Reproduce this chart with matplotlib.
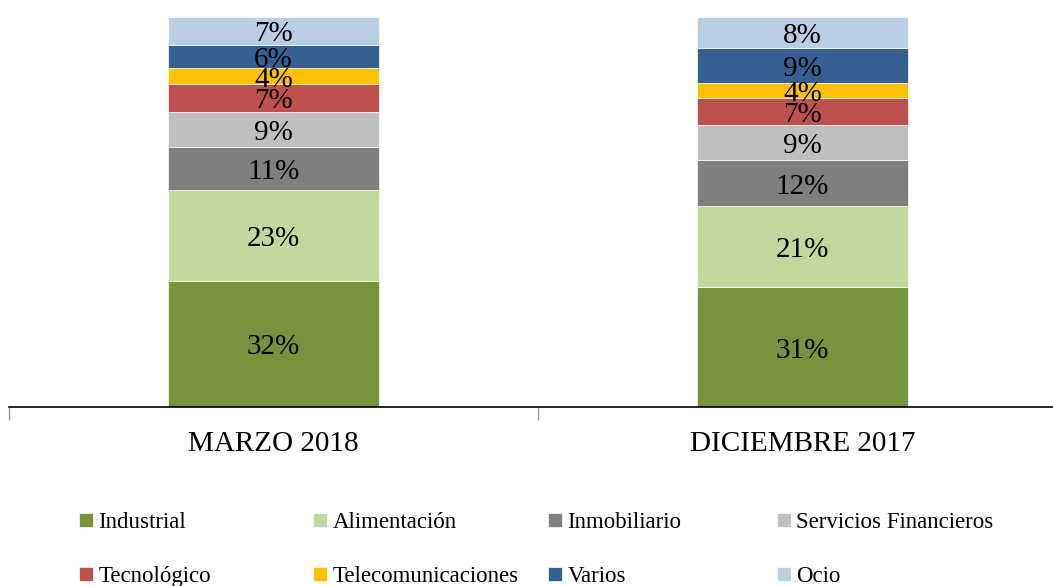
import matplotlib
matplotlib.use("Agg")
import matplotlib.pyplot as plt
import numpy as np

categories = ["MARZO 2018", "DICIEMBRE 2017"]
sectors = ["Industrial", "Alimentación", "Inmobiliario", "Servicios Financieros",
           "Tecnológico", "Telecomunicaciones", "Varios", "Ocio"]
marzo_2018 = [32, 23, 11, 9, 7, 4, 6, 7]
diciembre_2017 = [31, 21, 12, 9, 7, 4, 9, 8]
colors = ["#77933C", "#C3D69B", "#7F7F7F", "#BFBFBF",
          "#C0504D", "#FFC000", "#376092", "#B9CDE5"]

plt.rcParams['font.family'] = ['Liberation Serif', 'DejaVu Serif']

data = np.array([marzo_2018, diciembre_2017], dtype=float)
shares = data / data.sum(axis=1, keepdims=True) * 100

fig = plt.figure(figsize=(10.53, 5.86), dpi=100)
# axis spans 2 categories of 529 px each, starting at x=9 px
ax = fig.add_axes([9/1053, 1 - 407/586, 1058/1053, 390/586])

x = np.arange(len(categories))
bottom = np.zeros(len(categories))
handles = []
for i, name in enumerate(sectors):
    bars = ax.bar(x, shares[:, i], bottom=bottom, width=0.399, color=colors[i],
                  edgecolor="white", linewidth=0.5, label=name)
    anns = ax.bar_label(bars, labels=[f"{int(v)}%" for v in data[:, i]],
                        label_type="center", fontsize=21, color="black")
    for a in anns:
        a.xyann = (0, -2.5)
    bottom += shares[:, i]
    handles.append(bars)

ax.set_xlim(-0.5, len(categories) - 0.5)
ax.set_ylim(0, 100)
ax.set_yticks([])
for s in ["top", "right", "left"]:
    ax.spines[s].set_visible(False)
ax.spines["bottom"].set_color("#000000")
ax.spines["bottom"].set_linewidth(1.2)
ax.set_xticks(x)
ax.set_xticklabels(categories, fontsize=21)
ax.set_xticks([-0.5, 0.5], minor=True)
ax.tick_params(axis="x", which="major", length=0, pad=17)
ax.tick_params(axis="x", which="minor", length=9, width=1.0, color="#A0A0A0")

col_x = [79, 313, 548, 777]
for c in range(4):
    idx = [c, c + 4]
    leg = fig.legend([handles[j] for j in idx], [sectors[j] for j in idx],
                     loc="upper left", bbox_to_anchor=(col_x[c]/1053, 1 - 512/586),
                     ncol=1, frameon=False, fontsize=16.5, handlelength=0.6,
                     handleheight=0.6, handletextpad=0.25, labelspacing=1.45,
                     borderaxespad=0, borderpad=0)

fig.savefig("out.png", dpi=100)
